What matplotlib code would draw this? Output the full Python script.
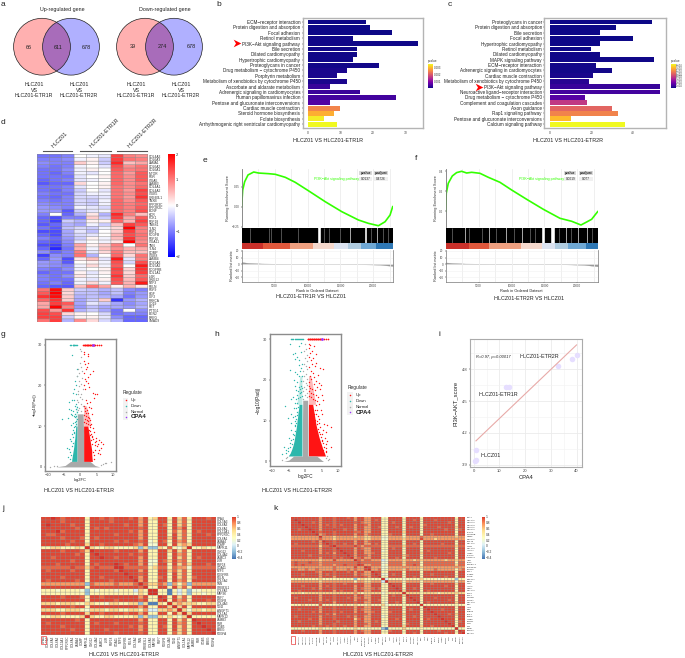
import numpy as np
from matplotlib import pyplot as plt
from matplotlib.colors import LinearSegmentedColormap, Normalize
from matplotlib.patches import Circle, Rectangle

plt.rcParams['font.family'] = ['Liberation Sans', 'DejaVu Sans']

W, H = 685, 658
fig = plt.figure(figsize=(W / 100, H / 100), dpi=100)


def px_axes(x0, y0, x1, y1):
    # axes from pixel box, y counted from the top of the picture
    return fig.add_axes([x0 / W, 1 - y1 / H, (x1 - x0) / W, (y1 - y0) / H])


# ---- data ----
venn_up = [66, 611, 678]
venn_down = [39, 274, 678]

b_terms = ['ECM−receptor interaction', 'Protein digestion and absorption', 'Focal adhesion', 'Retinol metabolism',
           'PI3K−Akt signaling pathway', 'Bile secretion', 'Dilated cardiomyopathy', 'Hypertrophic cardiomyopathy',
           'Proteoglycans in cancer', 'Drug metabolism − cytochrome P450', 'Porphyrin metabolism',
           'Metabolism of xenobiotics by cytochrome P450', 'Ascorbate and aldarate metabolism',
           'Adrenergic signaling in cardiomyocytes', 'Human papillomavirus infection',
           'Pentose and glucuronate interconversions', 'Cardiac muscle contraction', 'Steroid hormone biosynthesis',
           'Folate biosynthesis', 'Arrhythmogenic right ventricular cardiomyopathy']
b_counts = [18, 19, 26, 14, 34, 15, 15, 14, 22, 12, 9, 12, 7, 16, 27, 7, 10, 8, 5, 9]
b_pvalue = [.00001, .00001, .00001, .00002, .00002, .00002, .00002, .00002, .00003, .00007, .00007, .00007,
            .00028, .00030, .00036, .00050, .00245, .00287, .00340, .00350]

c_terms = ['Proteoglycans in cancer', 'Protein digestion and absorption', 'Bile secretion', 'Focal adhesion',
           'Hypertrophic cardiomyopathy', 'Retinol metabolism', 'Dilated cardiomyopathy', 'MAPK signaling pathway',
           'ECM−receptor interaction', 'Adrenergic signaling in cardiomyocytes', 'Cardiac muscle contraction',
           'Metabolism of xenobiotics by cytochrome P450', 'PI3K−Akt signaling pathway',
           'Neuroactive ligand−receptor interaction', 'Drug metabolism − cytochrome P450',
           'Complement and coagulation cascades', 'Axon guidance', 'Rap1 signaling pathway',
           'Pentose and glucuronate interconversions', 'Calcium signaling pathway']
c_counts = [49, 32, 24, 40, 24, 20, 24, 50, 22, 30, 21, 19, 53, 53, 17, 18, 30, 33, 10, 36]
c_pvalue = [.1e-5, .1e-5, .2e-5, .2e-5, .3e-5, .3e-5, .4e-5, .4e-5, .8e-5, 1e-5, 1.5e-5, 4e-5, 7e-5, 9e-5, 13e-5,
            39e-5, 52e-5, 60e-5, 73e-5, 86e-5]

d_genes = ['COL4A3', 'COL6A3', 'LAMA1', 'COL6A2', 'COL6A1', 'MTOR', 'FGR', 'ITGA5', 'LAMB3', 'COL4A1', 'COL4A2',
           'ITGB5', 'CREB3L1', 'TNXB', 'PPP2R3C', 'PPP2R2C', 'BDNF', 'KDR', 'PCK1', 'FGF18', 'TNBS1', 'TLN2', 'FGF1',
           'PDGFB', 'FGF16', 'ITGA11', 'TNN', 'TLN4', 'COMP', 'ITGB8', 'LAMB4', 'COL5A3', 'COL5A2', 'PDGFRB', 'COL1A1',
           'IL6R', 'GNG12', 'NTF3', 'RELN', 'FGF9', 'HGF', 'IGF2', 'PRKCA', 'CD19', 'RET', 'PTTG1', 'BGN2', 'EREG',
           'SMAD9']
d_values = [
    [-1.1, -1.1, -1.0, 0.0, -0.1, -0.2, 1.5, 1.0, 0.9],
    [-1.0, -1.0, -0.9, -0.1, 0.1, -0.4, 1.5, 1.1, 1.0],
    [-0.9, -1.0, -1.0, 0.4, 0.1, -0.4, 1.7, 0.5, 0.7],
    [-1.0, -1.1, -1.0, -0.1, 0.0, -0.2, 1.4, 0.9, 1.1],
    [-1.1, -1.1, -0.9, -0.1, 0.1, 0.0, 1.3, 1.0, 1.1],
    [-1.1, -1.2, -1.0, -0.1, -0.2, 0.0, 1.2, 0.8, 1.3],
    [-1.1, -1.1, -1.1, -0.2, 0.0, 0.1, 1.2, 0.9, 1.3],
    [-1.2, -1.1, -1.0, -0.2, -0.1, 0.0, 1.2, 0.9, 1.3],
    [-1.3, -1.2, -1.2, 0.3, 0.0, 0.1, 1.2, 0.9, 1.1],
    [-1.1, -1.1, -1.0, -0.2, 0.0, 0.1, 1.1, 0.9, 1.2],
    [-1.1, -1.2, -1.0, -0.4, 0.0, -0.2, 1.1, 0.8, 1.5],
    [-1.0, -1.1, -1.1, -0.3, -0.1, -0.1, 1.1, 0.9, 1.4],
    [-1.1, -1.2, -1.0, -0.3, -0.3, -0.2, 1.1, 0.8, 1.6],
    [-1.0, -1.1, -1.0, -0.3, -0.4, -0.1, 1.2, 0.9, 1.3],
    [-0.9, -1.0, -1.0, -0.3, -0.4, -0.1, 1.2, 1.0, 1.2],
    [-0.8, -0.9, -1.0, -0.1, -0.2, -0.3, 1.2, 1.0, 1.3],
    [-0.8, -0.8, -1.3, -0.4, -0.2, -0.1, 1.2, 1.0, 1.4],
    [-1.0, 0.0, -1.2, -0.6, 0.2, -0.6, 1.7, 1.0, 0.5],
    [-1.2, -1.4, -1.0, -1.0, 0.4, -0.4, 1.5, 0.7, 1.3],
    [-1.2, -1.5, -0.4, -0.6, 0.1, 0.1, 1.2, 0.6, 1.5],
    [-1.3, -1.2, -0.6, -0.7, -0.1, -0.4, 0.5, 1.5, 1.3],
    [-1.1, -1.3, -0.5, -0.3, -0.4, -0.1, 0.3, 2.0, 1.0],
    [-1.4, -1.4, -0.7, -0.2, -0.5, 0.0, 0.4, 1.5, 1.0],
    [-1.2, -1.4, -0.7, -0.3, -0.2, 0.0, 0.6, 1.4, 1.1],
    [-1.0, -1.2, -0.8, -0.4, 0.1, -0.1, 0.5, 1.6, 1.0],
    [-1.2, -1.3, -0.9, -0.2, 0.0, -0.1, 0.2, 2.0, 0.9],
    [-1.4, -1.5, -1.0, 0.7, 0.1, 0.4, 1.0, 0.0, 1.1],
    [-1.2, -1.7, -1.1, 0.6, -0.1, 0.5, 0.9, 0.6, 0.7],
    [-0.9, -1.2, -1.0, 1.0, -0.2, 0.3, 1.1, 0.5, 0.5],
    [-1.5, -0.9, -1.0, 1.1, -0.6, 0.0, 1.2, 0.3, 1.1],
    [-1.2, -0.8, -1.4, 0.2, 0.5, -0.2, 1.8, -0.2, 1.0],
    [-0.8, -0.9, -1.3, 0.0, 0.1, -0.1, 1.4, -0.3, 1.4],
    [-0.8, -0.9, -1.0, -0.1, 0.3, -0.1, 1.3, 0.0, 1.8],
    [-1.0, -1.1, -0.9, -0.1, 0.0, 0.1, 1.5, 0.3, 1.6],
    [-1.2, -1.1, -1.1, 0.1, -0.2, 0.1, 1.4, 0.3, 1.5],
    [-1.0, -1.1, -0.9, 0.2, -0.1, 0.0, 1.6, 0.4, 1.2],
    [-1.0, -1.1, -1.1, -0.1, -0.2, 0.1, 1.4, 0.5, 1.3],
    [-1.1, -1.0, -1.2, -0.1, 0.3, -0.1, 1.3, 0.6, 1.8],
    [-1.2, -1.3, -1.3, 0.5, 1.1, 0.7, 0.1, 0.6, 0.2],
    [1.1, 1.9, 0.4, -0.4, -0.5, -0.6, -0.5, -0.9, -1.0],
    [1.3, 2.0, 0.3, -0.5, -0.5, -0.7, -0.5, -1.0, -0.8],
    [1.6, 1.9, 0.4, -0.6, -0.5, -0.6, -0.7, -1.1, -0.8],
    [1.2, 1.6, 0.4, -0.7, -0.4, 0.4, -1.6, -0.8, -0.6],
    [0.7, 1.5, 1.3, -0.7, -0.2, -0.4, -0.7, -0.9, -0.7],
    [0.7, 2.0, 1.0, -0.8, -0.5, -0.7, -0.7, -0.8, -0.6],
    [1.4, 0.8, 1.6, -0.6, -0.4, -0.7, -1.1, 0.0, -0.9],
    [1.5, 1.4, 0.3, 0.1, 0.0, -0.3, -1.1, -1.0, -1.0],
    [1.5, 1.5, -0.4, 0.1, 0.1, -0.2, -0.9, -1.2, -1.2],
    [1.1, 1.5, -0.6, 0.9, 0.3, -0.3, -0.6, -1.2, -1.2],
]

e_rank = [0, 50, 150, 450, 960, 1820, 2580, 4090, 5100, 6620, 8130, 10150, 12680, 15200, 17730, 19240, 20760, 21770,
          22530, 22930]
e_score = [0, 0.08, 0.21, 0.315, 0.40, 0.437, 0.424, 0.416, 0.408, 0.37, 0.307, 0.20, 0.063, -0.063, -0.168, -0.21,
           -0.24, -0.19, -0.105, 0.0]
e_runs = [(0, 2170), (2370, 3180), (3380, 5000), (5100, 7120), (7220, 7630), (7730, 9240), (9390, 10760), (10860, 11410),
          (11970, 14190), (14290, 16310), (16620, 17320), (17480, 18640), (18990, 20350), (20760, 22930)]
e_thin = [1200, 4100, 4500, 6000, 8500, 12500, 13200, 15000, 19600, 21500, 22200]
e_strip = [0, 3300, 7300, 10800, 13950, 16200, 18100, 20450, 22930]
e_metric_rank = [0, 1000, 3000, 7000, 12000, 18000, 21000, 22930]
e_metric = [3, 1.8, 0.9, 0.2, 0, -0.3, -1, -3]

f_rank = [0, 85, 390, 1000, 1660, 2420, 3180, 3940, 5200, 6470, 8240, 10020, 12300, 14830, 17360, 19140, 20550, 21410,
          22170, 22680, 23090]
f_score = [0, 0.18, 0.28, 0.353, 0.387, 0.40, 0.383, 0.39, 0.38, 0.34, 0.29, 0.213, 0.12, 0.02, -0.07, -0.10, -0.137,
           -0.107, -0.08, -0.037, -0.003]
f_runs = [(0, 2770), (3030, 4440), (4650, 6470), (6770, 9000), (9300, 11440), (11790, 14470), (15080, 15840),
          (16600, 18120), (18430, 19890), (20250, 21260), (21570, 23090)]
f_thin = [900, 3600, 5500, 7600, 10300, 12800, 13600, 17200, 19000, 22300]
f_strip = [0, 3530, 6570, 11440, 14670, 16600, 18520, 21260, 23090]
f_metric_rank = [0, 1000, 3000, 7000, 12000, 18000, 21000, 23090]
f_metric = [2.5, 1.6, 0.8, 0.3, 0, -0.4, -1.2, -3.5]

strip_colors = ['#C9302A', '#E0583C', '#EFA080', '#F5D8CC', '#DCE3F0', '#B0CCE0', '#6FA8D4', '#2F78B5']

# volcano g: outline of the dense cloud, then the loose points
g_env_y = [1.3, 2, 3, 4, 5, 6, 7, 8, 9, 10]
g_up_dense = [3.7, 3.6, 3.5, 3.5, 3.3, 3.1, 2.9, 2.7, 2.5, 2.3]
g_down_dense = [-2.7, -2.6, -2.4, -2.2, -2.0, -1.9, -1.7, -1.6, -1.5, -1.4]
g_thin_y = [10, 11, 12, 13, 14, 15]
g_up_thin = [3.0, 3.0, 2.9, 2.5, 2.2, 1.8]
g_down_thin = [-1.5, -1.4, -1.4, -1.3, -1.3, -1.2]
g_grey_y = [-0.05, 0.3, 1.3, 1.31, 8, 13]
g_grey_l = [-7.5, -4.7, -3.0, -1.0, -1.0, -0.85]
g_grey_r = [6.0, 4.5, 3.0, 1.0, 1.0, 0.85]
g_up = [(1.0, 28.3), (1.2, 27.8), (2.4, 27.2), (2.5, 27.7), (1.1, 26.0), (2.5, 25.5), (1.5, 25.2), (2.0, 24.6),
        (1.8, 24.0), (3.9, 23.6), (1.2, 23.0), (2.9, 22.8), (2.2, 22.0), (1.4, 21.5), (1.7, 21.0), (2.3, 20.5),
        (1.1, 20.0), (2.6, 19.5), (1.3, 19.0), (4.6, 18.0), (3.8, 18.2), (5.0, 17.8), (4.1, 16.8), (1.6, 16.5),
        (3.0, 16.0), (2.0, 15.7), (2.7, 14.8), (3.3, 14.4), (3.6, 13.0), (3.1, 11.6), (3.4, 10.5), (3.8, 9.4),
        (4.2, 8.5), (4.8, 7.0), (5.6, 6.6), (3.7, 7.5), (4.9, 6.3), (6.2, 6.0), (7.0, 5.6), (5.4, 5.5), (4.5, 5.4),
        (6.5, 4.6), (5.8, 4.0), (3.9, 6.8), (4.4, 6.1), (5.1, 5.0), (3.5, 7.2), (6.0, 3.2), (4.0, 3.5), (4.3, 2.8),
        (4.6, 4.2), (5.3, 3.3), (4.1, 1.8),
        (1.2, 14.9), (1.5, 14.4), (2.1, 14.0), (1.3, 13.6), (1.8, 13.3), (2.4, 13.1), (1.1, 12.8), (1.6, 12.5),
        (2.2, 12.2), (2.8, 12.0), (1.3, 11.8), (1.9, 11.5), (2.5, 11.3), (1.1, 11.0), (1.7, 10.8), (2.3, 10.6),
        (2.9, 10.3), (3.0, 9.7), (2.8, 9.1), (3.0, 8.9), (3.2, 8.1), (2.9, 7.7), (3.2, 6.6), (3.5, 5.7)]
g_down = [(-2.6, 27.4), (-1.0, 24.0), (-1.1, 22.4), (-1.6, 21.0), (-1.2, 20.0), (-2.0, 19.0), (-2.2, 18.2),
          (-1.4, 18.0), (-1.8, 16.5), (-2.5, 16.3), (-3.4, 16.0), (-1.7, 15.0), (-3.4, 14.3), (-1.4, 15.5),
          (-2.3, 13.6), (-2.8, 14.0), (-3.0, 13.0), (-2.6, 12.8), (-2.0, 12.4), (-3.8, 12.0), (-5.6, 11.7),
          (-2.2, 10.8), (-3.0, 10.2), (-1.9, 9.7), (-2.4, 9.0), (-1.8, 8.6), (-2.7, 8.0), (-3.3, 6.8), (-2.9, 6.2),
          (-4.0, 4.5), (-3.5, 4.4), (-3.2, 3.7), (-2.9, 3.0), (-3.7, 2.4), (-3.2, 1.8),
          (-1.1, 14.6), (-1.3, 14.1), (-1.1, 13.4), (-1.5, 13.0), (-1.2, 12.5), (-1.6, 12.1), (-1.1, 11.7),
          (-1.4, 11.3), (-1.7, 10.9), (-1.2, 10.5), (-1.6, 10.1), (-2.1, 8.2), (-2.3, 7.2), (-2.4, 5.9), (-2.7, 5.0)]
g_grey = [(-0.2, 29.0), (0.2, 28.5), (-0.8, 24.1), (-0.9, 22.3), (0.5, 23.5), (-0.3, 19.8), (-0.8, 18.0), (-0.9, 16.4),
          (7.0, 0.6), (7.6, 0.8), (8.0, 1.0), (9.5, 1.2), (-8.0, 0.1), (-7.2, 0.15), (-9.3, 0.05), (6.5, 0.4),
          (0.1, 27.0), (-0.2, 25.6), (0.3, 24.6), (-0.5, 23.0), (0.6, 21.9), (-0.4, 21.0), (0.2, 20.3), (0.7, 19.2),
          (-0.6, 18.6), (0.3, 18.0), (-0.1, 17.2), (0.6, 16.6), (-0.7, 15.9), (0.1, 15.4), (0.7, 14.9), (-0.4, 14.4),
          (-0.8, 13.9), (0.3, 13.6)]
g_top_up = [0.9, 1.1, 1.3, 1.5, 1.7, 1.9, 2.1, 2.3, 2.5, 2.7, 2.9, 3.1, 3.3, 3.5, 3.7, 4.1, 4.3, 4.6, 5.0, 5.6, 6.5]
g_top_down = [-3.2, -3.0, -2.4, -2.2, -2.0, -1.8, -1.6, -1.3, -1.0]
g_cpa4 = (3.9, 30)

# h is much fuller than g, the solid block reaches higher
h_env_y = [1.3, 2, 3, 4, 5, 6, 7, 8, 9, 10, 11, 12, 13, 14]
h_up_dense = [6.2, 5.9, 5.4, 5.0, 4.6, 4.2, 3.9, 3.6, 3.3, 3.1, 2.9, 2.7, 2.5, 2.3]
h_down_dense = [-5.2, -4.6, -4.1, -3.7, -3.4, -3.2, -3.0, -2.8, -2.6, -2.5, -2.3, -2.2, -2.0, -1.9]
h_thin_y = [14, 15, 16, 17, 18, 19, 20, 21]
h_up_thin = [3.2, 3.0, 2.8, 2.6, 2.4, 2.2, 2.0, 1.7]
h_down_thin = [-2.6, -2.4, -2.3, -2.1, -2.0, -1.9, -1.8, -1.6]
h_grey_y = [-0.05, 0.3, 1.3, 1.31, 8, 15]
h_grey_l = [-6.6, -5.0, -3.5, -0.85, -0.85, -0.75]
h_grey_r = [5.6, 5.0, 3.5, 0.85, 0.85, 0.75]
h_up = [(1.1, 28.8), (1.6, 28.6), (2.7, 28.4), (1.3, 27.9), (2.2, 27.2), (1.5, 26.6), (3.2, 26.4), (1.1, 25.6),
        (2.4, 25.4), (1.8, 24.8), (3.4, 24.2), (2.0, 23.8), (2.9, 23.4), (1.3, 23.1), (4.6, 22.8), (1.7, 22.3),
        (5.3, 22.6), (2.3, 21.6), (3.8, 21.2), (1.4, 21.0), (2.6, 20.6), (1.9, 20.2), (3.4, 19.8), (4.2, 19.3),
        (1.2, 19.4), (2.8, 18.9), (4.9, 18.7), (5.0, 16.3), (5.4, 15.0), (4.4, 17.8), (3.9, 15.8), (4.3, 14.1),
        (3.7, 18.3), (4.7, 12.5), (5.1, 11.6), (4.2, 10.4), (5.8, 9.1), (6.6, 8.8), (7.8, 8.4), (5.5, 7.8),
        (6.4, 7.2), (5.2, 6.6), (6.1, 5.6), (6.7, 5.0), (5.0, 4.9), (6.5, 4.2), (6.3, 3.2), (8.0, 3.4), (5.6, 2.8),
        (6.4, 2.2), (4.6, 8.4), (4.1, 9.5),
        (1.1, 18.4), (1.6, 18.1), (2.2, 17.8), (2.9, 17.5), (1.3, 17.2), (1.9, 16.9), (2.5, 16.6), (3.2, 16.3),
        (1.2, 16.0), (1.7, 15.7), (2.3, 15.4), (2.9, 15.1), (3.5, 14.8), (3.2, 13.8), (2.9, 12.7), (3.6, 12.5),
        (2.6, 11.7), (3.2, 11.5), (3.9, 11.2), (3.0, 10.2), (3.6, 10.0), (3.6, 9.2), (3.9, 8.0), (4.2, 7.3),
        (4.4, 6.6), (4.7, 5.9), (5.0, 5.3), (5.4, 4.4), (5.8, 3.6), (6.4, 2.6)]
h_down = [(-4.6, 28.9), (-1.2, 29.0), (-2.0, 28.4), (-3.0, 26.6), (-3.6, 26.3), (-1.4, 26.8), (-2.6, 25.7),
          (-3.2, 25.1), (-1.8, 24.8), (-2.0, 23.6), (-4.8, 22.4), (-3.0, 22.0), (-1.6, 22.1), (-2.6, 21.4),
          (-2.0, 20.9), (-3.4, 20.0), (-2.5, 19.5), (-1.4, 19.8), (-3.1, 18.4), (-2.8, 17.4), (-4.3, 15.4),
          (-3.7, 15.8), (-3.2, 14.2), (-6.2, 13.6), (-3.5, 13.1), (-4.2, 11.6), (-3.6, 10.9), (-5.2, 10.6),
          (-4.3, 9.5), (-3.2, 8.8), (-4.4, 7.6), (-3.8, 6.6), (-5.0, 5.7), (-4.6, 4.6), (-6.6, 3.6), (-5.8, 2.8),
          (-6.0, 2.0), (-7.2, 1.7), (-5.4, 3.2), (-4.3, 5.3),
          (-1.1, 24.0), (-1.3, 23.0), (-1.1, 21.0), (-1.2, 18.6), (-1.8, 18.3), (-1.1, 18.0), (-1.5, 17.7),
          (-2.2, 17.3), (-1.2, 17.0), (-1.7, 16.7), (-2.4, 16.4), (-1.1, 16.1), (-1.6, 15.8), (-2.1, 15.5),
          (-2.8, 15.2), (-2.5, 14.3), (-2.2, 13.4), (-2.9, 13.1), (-2.6, 12.2), (-2.4, 11.4), (-3.0, 11.1),
          (-2.7, 10.3), (-3.2, 10.0), (-2.8, 9.4), (-3.1, 8.6), (-3.2, 7.4), (-3.4, 6.4), (-3.7, 5.5), (-4.1, 4.3),
          (-4.6, 3.4), (-5.4, 2.6)]
h_grey = [(0.0, 28.9), (-0.5, 27.2), (0.4, 26.1), (-6.0, 0.9), (-5.6, 1.1), (6.4, 0.9), (6.8, 1.2), (-7.0, 0.2),
          (6.9, 0.3), (7.2, 0.5),
          (0.2, 27.7), (-0.2, 25.4), (0.5, 24.7), (-0.4, 24.0), (0.1, 23.4), (0.6, 22.7), (-0.6, 22.1), (0.2, 21.5),
          (-0.3, 20.9), (0.6, 20.3), (-0.6, 19.7), (0.1, 19.2), (0.7, 18.7), (-0.4, 18.2), (0.3, 17.7), (-0.7, 17.2),
          (0.6, 16.8), (-0.2, 16.3), (0.4, 15.8), (-0.6, 15.4)]
h_top_up = [0.8, 1.0, 1.2, 1.4, 1.6, 1.8, 2.0, 2.2, 2.4, 2.6, 2.8, 3.0, 3.2, 3.4, 3.6, 3.8, 4.0, 4.2, 4.4, 4.6, 4.8,
            5.7, 6.5, 7.0]
h_top_down = [-4.4, -4.0, -3.6, -3.2, -2.8, -2.5, -2.2, -1.9, -1.6, -1.3, -1.0, -0.7]
h_cpa4 = (5.2, 30)

i_cpa4 = [0.9, 0.8, 0.65, 12.4, 13.9, 32.6, 38.3, 40.0]
i_score = [4.036, 3.94, 3.935, 4.63, 4.63, 4.835, 4.90, 4.935]
i_fit_x = [0.9, 40.0]
i_fit_y = [4.124, 5.03]

# correlation cells: each digit is an index into corr_levels
corr_levels = [-0.42, -0.2, 0.02, 0.2, 0.35, 0.55, 0.72, 0.86, 0.94, 1.0]
corr_colors = ['#4575B4', '#91BFDB', '#E0F3F8', '#FFFFBF', '#FEE090', '#FC8D59', '#D73027']

j_genes = ['CPA4', 'COL5A3', 'COL6A3', 'COL6A2', 'COL12A1', 'PPP2R3C', 'COL6A1', 'LAMA4', 'COMP', 'MAPK11', 'GNG12',
           'COL4A2', 'LAMC3', 'IL6R', 'FGF18', 'ITGA11', 'NTF3', 'PDGFRB', 'RELN', 'COL5A2', 'TNN', 'CREB3L1',
           'COL6A5', 'MAP3K', 'FGF7', 'PDGFB', 'COL4A3', 'TLN2', 'ANGPT1', 'COL1A1', 'MAPK12', 'LAMB3', 'FGR',
           'ITGB5', 'EREG', 'PDGFA']
j_rows = [
    '889878888 4 8878788878 6 8 45 88 4 8 5 7 4 88878',
    '888878888 4 8888788888 6 8 44 88 4 8 5 7 4 88888',
    '898888788 4 8888888788 6 8 44 87 4 8 5 7 4 88888',
    '888888878 4 8787888888 7 8 44 88 4 8 6 8 4 88888',
    '888978888 4 8888888878 6 8 44 88 4 7 5 7 4 87888',
    '877888888 4 8888878888 6 8 44 88 4 8 5 7 4 88878',
    '888878887 4 8788888888 6 8 44 88 5 8 5 7 4 88888',
    '888888788 4 8888878788 7 8 34 87 4 8 6 7 4 88888',
    '888887888 5 8878888887 6 8 33 88 4 8 5 6 5 88888',
    '445544454 9 5445544445 1 5 11 54 7 4 3 5 9 44544',
    '888878887 5 9888878888 6 8 44 88 5 8 5 7 4 88888',
    '888888878 4 8988888878 7 8 44 88 4 8 6 7 4 88888',
    '887888888 4 8898878888 6 8 44 88 4 8 5 7 4 87888',
    '888888788 4 8888888888 6 8 33 87 5 8 6 7 4 88888',
    '888788888 4 8788898788 6 8 34 88 4 8 5 7 5 88878',
    '777777877 5 7877799777 7 7 45 77 4 7 6 6 3 77777',
    '878888788 4 8888879888 6 8 44 88 5 7 5 7 4 88888',
    '888888888 4 8888888988 7 8 44 88 4 8 5 7 4 88888',
    '888878888 4 8878888898 6 8 44 78 4 8 5 7 4 78888',
    '878888878 4 8888788889 6 8 44 88 4 8 6 7 4 88888',
    '666666666 1 7666676667 9 7 55 76 1 6 4 6 1 66666',
    '888888888 4 8888888888 7 9 44 88 4 8 5 7 4 88888',
    '444344443 1 4344434442 5 4 99 44 0 4 2 4 1 33444',
    '444444444 1 4444444443 5 4 99 44 0 4 2 4 1 44344',
    '888878887 4 8878888888 6 8 44 98 4 8 5 7 4 88888',
    '888888888 4 8888878888 7 8 44 89 4 8 6 7 4 88878',
    '555455544 5 5443554455 1 5 00 54 9 5 6 5 5 54455',
    '888888788 4 8888888888 6 8 44 88 5 9 5 8 4 88888',
    '555445554 3 5554554455 4 6 22 55 6 5 9 5 3 55455',
    '888878888 5 8878888788 6 8 44 88 4 8 5 9 5 88888',
    '445544445 9 5445544445 1 5 11 54 5 4 3 5 9 44444',
    '888888878 4 8888888888 6 8 44 88 4 8 5 7 4 98888',
    '878888888 4 8788878888 7 8 44 88 4 8 6 7 4 89888',
    '888878888 4 8888888878 6 8 44 87 4 8 5 7 4 88988',
    '888888788 4 8887888888 6 8 44 88 4 8 5 7 4 88898',
    '888888888 4 8888878888 7 8 44 88 4 7 5 7 4 88889',
]

k_genes = ['CPA4', 'COL1A1', 'COL5A2', 'COL6A3', 'COL5A1', 'COL6A2', 'LAMA4', 'PDGFRB', 'COMP', 'COL6A1', 'FGF18',
           'COL4A1', 'TNXB', 'COL4A2', 'ITGA11', 'ITGB5', 'LAMC3', 'ANGPT1', 'IL6R', 'TLN2', 'CREB3L1', 'PPP2R3C',
           'GNG12', 'FGF7', 'LAMB3', 'MTOR', 'MAPK11', 'RELN', 'TNN', 'ITGA5', 'NTF3', 'COL1A2', 'PCK1', 'FGF1',
           'PDGFB', 'PDGFA', 'COL4A3', 'RET', 'IGF2', 'HGF', 'THBS2', 'SPP1', 'EREG', 'ITGB8', 'TGFB1', 'KDR', 'FN1',
           'BDNF', 'PRKCA', 'SMAD9']
k_rows = [
    '88888888 6 888 7 88878 6 88 66 888 44 8888 4 8888 4 888888888 4 88',
    '89888888 6 888 7 88888 6 88 66 878 44 8888 4 8878 4 888788888 4 88',
    '88988878 6 888 7 88888 7 87 66 888 44 8788 4 8888 4 888888878 4 88',
    '88898888 6 878 7 87888 6 88 76 888 44 8888 4 8888 4 788888888 4 88',
    '88889888 6 888 7 88888 6 88 66 887 44 8878 4 8788 4 888878888 5 88',
    '88788988 6 888 8 88788 6 88 66 888 44 8888 4 8888 4 888888788 4 78',
    '88888898 7 888 7 88888 7 78 66 888 44 8888 5 8888 4 888888888 4 88',
    '88888889 6 788 7 88888 6 88 67 888 44 7888 4 8888 4 887888888 4 88',
    '66666666 9 666 5 66666 5 66 55 666 33 6666 4 6666 7 666666666 5 66',
    '66666666 7 666 5 66666 6 66 55 666 33 6666 5 6666 8 666566666 6 66',
    '88888878 6 988 7 88888 6 88 67 888 44 8888 4 8888 4 888888888 4 88',
    '87888888 6 898 7 88788 6 88 66 878 44 8888 4 8878 4 888887888 4 88',
    '77777777 5 778 9 77777 8 76 77 777 44 7777 5 7777 4 777777777 5 77',
    '88888888 6 888 7 98888 6 87 66 888 44 8788 4 8888 4 888888888 4 88',
    '88878888 6 888 7 89888 6 88 66 888 34 8888 4 8888 4 878888888 4 88',
    '88888888 6 878 6 88988 6 88 66 788 44 8888 4 8888 5 888888878 4 88',
    '88888788 7 888 7 88898 6 88 76 888 44 8888 5 7888 4 888888888 4 88',
    '88888888 6 888 7 87889 6 78 66 888 44 8878 4 8888 4 888788888 4 88',
    '66666666 5 666 8 66666 9 76 77 666 23 6666 5 6656 5 666666566 5 66',
    '78777877 6 777 7 77777 7 87 77 777 33 7777 5 7777 4 777777777 4 77',
    '78787777 6 777 6 77877 7 98 66 777 34 7777 5 7787 4 777777777 5 77',
    '66666666 6 666 7 66666 8 66 98 666 33 6666 6 6666 5 666666666 6 66',
    '77667667 6 666 7 66676 7 66 89 667 34 6666 5 7666 4 666766666 4 67',
    '88888887 6 888 7 88878 6 88 66 988 44 8888 4 8888 4 888888888 4 88',
    '88878888 6 878 7 88888 6 87 66 898 33 8788 4 8888 4 887888888 4 88',
    '88888888 6 888 6 88888 7 88 76 889 44 8888 4 8878 4 888888788 4 88',
    '44444444 5 444 4 44444 1 45 44 444 92 4444 3 4444 5 444434444 1 44',
    '66666666 5 666 6 66666 4 66 55 666 29 6666 4 6666 4 666666666 3 66',
    '88888888 6 888 7 88788 7 88 66 888 44 9888 4 8888 4 887888888 5 88',
    '88878888 6 878 7 88888 6 88 66 888 44 8988 4 8888 4 888888788 4 88',
    '88888878 6 888 7 88888 6 87 66 787 44 8898 4 8878 4 888888888 4 88',
    '88788888 7 888 6 87888 6 88 66 888 44 8889 5 8888 4 878888888 4 88',
    '55545555 5 555 5 55555 6 54 55 555 34 5555 9 5555 4 555545555 5 55',
    '88888888 6 888 7 88888 6 88 66 888 44 8788 5 9888 4 888888888 4 88',
    '87888888 6 888 7 88878 6 78 66 888 44 8888 4 8988 4 888788888 4 88',
    '88888788 6 878 7 88888 6 88 76 887 44 8888 4 8898 4 888888878 4 88',
    '88888888 7 888 6 88888 7 88 66 888 43 8878 4 8889 4 878888888 5 88',
    '44454444 7 444 4 44544 5 44 45 444 53 4444 4 4444 9 444444444 4 44',
    '88888888 6 888 7 88888 6 88 66 888 44 8888 4 8888 4 988888888 4 88',
    '88788888 6 888 7 88888 6 87 66 888 44 8888 4 8788 4 898887888 4 88',
    '88888878 6 888 7 87888 6 88 66 788 44 7888 4 8888 4 889888888 4 88',
    '88888888 7 878 6 88888 7 88 76 888 44 8888 5 8888 4 888988878 5 88',
    '87888888 6 888 7 88878 6 88 66 888 34 8888 4 8878 4 888898888 4 88',
    '88888788 6 888 7 88888 5 78 66 888 44 8878 4 8888 4 878889888 4 88',
    '88788888 6 888 8 78888 6 88 66 878 44 8888 4 8888 4 888888988 4 78',
    '88888888 6 888 7 88888 6 88 76 888 44 8888 4 7888 4 888888898 4 88',
    '88888878 7 878 7 88788 6 88 66 888 44 8888 5 8888 5 887888889 4 88',
    '44444444 5 444 5 44444 5 44 44 444 10 4444 5 4444 4 444444444 9 44',
    '88878888 6 888 7 88888 6 87 66 888 44 7888 4 8888 4 888878888 4 98',
    '88888888 6 888 7 88888 6 88 66 888 44 8888 4 8878 4 888888788 4 89',
]

# ---- panels b, c : enrichment bars ----
GREY = '#B4B4B4'


def enrich_bars(box, terms, counts, pvalue, vmax, xlim, ticks):
    ax = px_axes(*box)
    pos = np.arange(len(terms))
    ax.barh(pos, counts, height=0.9, color=plt.cm.plasma(Normalize(0, vmax)(pvalue)))
    ax.set_yticks(pos)
    ax.set_yticklabels(terms, fontsize=3.35, color='#222222')
    ax.set_xticks(ticks)
    ax.set_xlim(*xlim)
    ax.set_ylim(len(terms) - 0.3, -0.7)
    ax.tick_params(axis='y', length=1, width=0.3, pad=0.8)
    ax.tick_params(axis='x', length=1, width=0.3, pad=0.8, labelsize=2.4, labelcolor='#444444')
    for s in ax.spines.values():
        s.set_color(GREY)
        s.set_linewidth(1)
    return ax


enrich_bars((302.7, 18.3, 423, 128), b_terms, b_counts, b_pvalue, 0.0035, (-1.53, 35.4), [0, 10, 20, 30])
enrich_bars((544.3, 18.3, 665.7, 128), c_terms, c_counts, c_pvalue, 86e-5, (-2.6, 55.7), [0, 20, 40])


def gradient_bar(box, cmap, vmin, vmax, ticks, labels, size=2.2, color='#333333'):
    ax = px_axes(*box)
    ax.imshow(np.linspace(vmax, vmin, 128).reshape(-1, 1), cmap=cmap, aspect='auto', vmin=vmin, vmax=vmax,
              extent=(0, 1, vmin, vmax))
    ax.set_xticks([])
    ax.yaxis.tick_right()
    ax.set_yticks(ticks)
    ax.set_yticklabels(labels, fontsize=size, color=color)
    ax.tick_params(axis='y', length=0, pad=0.8)
    for s in ax.spines.values():
        s.set_visible(False)
    return ax


gradient_bar((428, 64, 433, 88), 'plasma', 0, 0.0035, [0.001, 0.002, 0.003], ['0.001', '0.002', '0.003'])
gradient_bar((670.7, 64, 675, 88), 'plasma', 0, 86e-5, [1e-4, 2e-4, 3e-4, 4e-4, 5e-4, 6e-4, 7e-4, 8e-4],
             ['1e-04', '2e-04', '3e-04', '4e-04', '5e-04', '6e-04', '7e-04', '8e-04'], size=1.8)


def cell_grid(ax, nrow, ncol, color, lw):
    # thin lines that stay under a pixel wide, matplotlib snaps them otherwise
    for seg in (ax.hlines(np.arange(nrow + 1), 0, ncol, color=color, lw=lw),
                ax.vlines(np.arange(ncol + 1), 0, nrow, color=color, lw=lw)):
        seg.set_snap(False)


# ---- panel d : expression heatmap ----
heat_cmap = LinearSegmentedColormap.from_list('bwr2', ['#0000FF', '#FFFFFF', '#FF0000'])
ax = px_axes(37.3, 154.3, 147.7, 322.3)
ax.pcolormesh(np.array(d_values), cmap=heat_cmap, vmin=-2, vmax=2)
cell_grid(ax, len(d_values), 9, '#8A8A8A', 0.35)
ax.set_xlim(0, 9)
ax.set_ylim(len(d_values), 0)
ax.set_xticks([])
ax.yaxis.tick_right()
ax.set_yticks(np.arange(len(d_genes)) + 0.5)
ax.set_yticklabels(d_genes, fontsize=2.3, color='#333333')
ax.tick_params(axis='y', length=0, pad=1)
for s in ax.spines.values():
    s.set_visible(False)
gradient_bar((167.7, 154.3, 174.7, 257), heat_cmap, -2, 2, [-2, -1, 0, 1, 2], ['−2', '−1', '0', '1', '2'], size=3)


# ---- panels e, f : GSEA ----
def gsea(x0, x1, rank, score, runs, thin, strip, m_rank, metric, ylim, yticks, ylabels, xmax):
    top = px_axes(x0, 169, x1, 227.3)
    top.plot(rank, score, color='#33FF00', lw=1.2)
    top.set_xlim(0, xmax)
    top.set_ylim(*ylim)
    top.set_yticks(yticks)
    top.set_yticklabels(ylabels, fontsize=2.2, color='#444444')
    top.set_xticks([5000, 10000, 15000, 20000])
    top.set_xticks([2500, 7500, 12500, 17500, 22500], minor=True)
    top.grid(True, which='both', axis='x', color='#EDEDED', lw=0.6)
    top.tick_params(axis='x', which='both', length=0, labelbottom=False)
    top.tick_params(axis='y', length=1, width=0.3, pad=0.6)
    top.set_ylabel('Running Enrichment Score', fontsize=2.8, labelpad=1.2, color='#333333')
    for side in ('top', 'right', 'bottom'):
        top.spines[side].set_visible(False)
    top.spines['left'].set_color('#777777')
    top.spines['left'].set_linewidth(0.6)

    bar = px_axes(x0, 228, x1, 243)
    bar.broken_barh([(a, b - a) for a, b in runs], (0, 1), color='black')
    bar.vlines(thin, 0, 1, color='white', lw=0.4, alpha=0.55)
    bar.set_xlim(0, xmax)
    bar.set_ylim(0, 1)
    bar.axis('off')

    col = px_axes(x0, 243, x1, 249)
    for k, c in enumerate(strip_colors):
        col.axvspan(strip[k], strip[k + 1], color=c, lw=0)
    col.set_xlim(0, xmax)
    col.axis('off')

    low = px_axes(x0, 250, x1, 281.7)
    low.fill_between(m_rank, metric, 0, color='#9A9A9A', lw=0.2)
    low.set_xlim(0, xmax)
    low.set_ylim(-27, 21.5)
    low.set_yticks([-20, -10, 0, 10, 20])
    low.set_yticklabels(['−20', '−10', '0', '10', '20'], fontsize=2.2, color='#444444')
    low.set_xticks([5000, 10000, 15000, 20000])
    low.set_xticks([2500, 7500, 12500, 17500, 22500], minor=True)
    low.grid(True, which='both', axis='x', color='#EDEDED', lw=0.6)
    low.grid(True, which='major', axis='y', color='#F2F2F2', lw=0.4)
    low.tick_params(axis='x', which='minor', length=0)
    low.tick_params(axis='x', which='major', length=1, width=0.3, pad=0.6, labelsize=2.2, labelcolor='#444444')
    low.tick_params(axis='y', length=1, width=0.3, pad=0.6)
    low.set_xlabel('Rank in Ordered Dataset', fontsize=2.8, labelpad=0.8, color='#222222')
    low.set_ylabel('Ranked list metric', fontsize=2.8, labelpad=0.6, color='#333333')
    low.spines['top'].set_visible(False)
    for side in ('left', 'bottom', 'right'):
        low.spines[side].set_color('#777777')
        low.spines[side].set_linewidth(0.5)


gsea(241.7, 392.7, e_rank, e_score, e_runs, e_thin, e_strip, e_metric_rank, e_metric, (-0.26, 0.475),
     [-0.25, 0, 0.25], ['−0.25', '0.00', '0.25'], 22930)
gsea(445.7, 597.7, f_rank, f_score, f_runs, f_thin, f_strip, f_metric_rank, f_metric, (-0.16, 0.423),
     [0, 0.2, 0.4], ['0.0', '0.2', '0.4'], 23090)


# ---- panels g, h : volcano ----
def volcano(box, ylim, env_y, up_dense, down_dense, thin_y, up_thin, down_thin, grey_y, grey_l, grey_r, up, down, grey,
            top_up, top_down, cpa4, label_size):
    ax = px_axes(*box)
    red, teal, gr = '#FF1414', '#2DB7AC', '#A9A9A9'
    ax.fill_betweenx(thin_y, 1, up_thin, color=red, alpha=0.3, lw=0)
    ax.fill_betweenx(thin_y, down_thin, -1, color=teal, alpha=0.3, lw=0)
    ax.fill_betweenx(env_y, 1, up_dense, color=red, lw=0)
    ax.fill_betweenx(env_y, down_dense, -1, color=teal, lw=0)
    ax.fill_betweenx(grey_y, grey_l, grey_r, color=gr, lw=0)
    for pts, c in ((up, red), (down, teal), (grey, gr)):
        pts = np.array(pts)
        ax.scatter(pts[:, 0], pts[:, 1], s=1, color=c, linewidths=0)
    ax.scatter(top_up, [30] * len(top_up), s=1.5, color=red, linewidths=0)
    ax.scatter(top_down, [30] * len(top_down), s=1.2, color=teal, linewidths=0)
    ax.scatter(*cpa4, s=4, color='#9B30FF', linewidths=0, zorder=5)
    ax.set_xlim(-10.87, 10.87)
    ax.set_ylim(*ylim)
    ax.set_xticks([-10, -5, 0, 5, 10])
    ax.set_xticklabels(['−10', '−5', '0', '5', '10'], fontsize=2.8, color='#444444')
    ax.set_yticks([0, 10, 20, 30])
    ax.set_yticklabels(['0', '10', '20', '30'], fontsize=2.8, color='#444444')
    ax.tick_params(length=1, width=0.3, pad=0.8)
    ax.set_xlabel('log2FC', fontsize=label_size, labelpad=0.8, color='#222222')
    ax.set_ylabel('−log10(Padj)', fontsize=label_size, labelpad=1.2, color='#222222')
    for s in ax.spines.values():
        s.set_color('#8C8C8C')
        s.set_linewidth(1)


volcano((45, 339, 115.7, 470.7), (-0.98, 31.4), g_env_y, g_up_dense, g_down_dense, g_thin_y, g_up_thin, g_down_thin,
        g_grey_y, g_grey_l, g_grey_r, g_up, g_down, g_grey, g_top_up, g_top_down, g_cpa4, 2.9)
volcano((269.7, 334.3, 340.7, 466.3), (-1.23, 31.2), h_env_y, h_up_dense, h_down_dense, h_thin_y, h_up_thin, h_down_thin,
        h_grey_y, h_grey_l, h_grey_r, h_up, h_down, h_grey, h_top_up, h_top_down, h_cpa4, 3.4)

# ---- panel i : correlation scatter ----
ax = px_axes(470.3, 339.3, 581.7, 466.7)
ax.plot(i_fit_x, i_fit_y, color='#E8AAA8', lw=0.8, zorder=3)
ax.scatter(i_cpa4, i_score, s=16, color='#E6DEFF', linewidths=0, zorder=2)
ax.set_xlim(-1.3, 42)
ax.set_ylim(3.88, 5.083)
ax.set_xticks([0, 10, 20, 30, 40])
ax.set_yticks([3.9, 4.2, 4.5, 4.8])
ax.set_xticks([5, 15, 25, 35], minor=True)
ax.set_yticks([4.05, 4.35, 4.65, 4.95], minor=True)
ax.grid(True, which='major', color='#EBEBEB', lw=0.6)
ax.grid(True, which='minor', color='#F2F2F2', lw=0.4)
ax.set_axisbelow(True)
ax.tick_params(axis='both', which='major', length=1, width=0.3, pad=0.8, labelsize=3, labelcolor='#444444')
ax.tick_params(axis='both', which='minor', length=0)
ax.set_xlabel('CPA4', fontsize=4.2, labelpad=1.5, color='#222222')
ax.set_ylabel('PI3K−AKT_score', fontsize=4.2, labelpad=3, color='#222222')
ax.text(0.9, 4.92, 'R=0.97, p=0.00017', fontsize=2.9, style='italic', va='center', color='#222222')
ax.text(18, 4.92, 'HLCZ01-ETR2R', fontsize=3.9, va='center', color='#222222')
ax.text(1.8, 4.565, 'HLCZ01-ETR1R', fontsize=3.9, va='center', color='#222222')
ax.text(2.7, 3.99, 'HLCZ01', fontsize=3.9, va='center', color='#222222')
for s in ax.spines.values():
    s.set_color('#ABABAB')
    s.set_linewidth(0.8)

# ---- panels j, k : correlation heatmaps ----
corr_cmap = LinearSegmentedColormap.from_list('corr', corr_colors)


def corr_map(box, rows, genes, bar_box, label_size):
    n = len(genes)
    rows = [r.replace(' ', '') for r in rows]
    mat = np.array([[corr_levels[int(c)] for c in r[:n].ljust(n, '8')] for r in rows])
    ax = px_axes(*box)
    ax.pcolormesh(mat, cmap=corr_cmap, vmin=-0.45, vmax=1)
    cell_grid(ax, len(rows), n, '#8C8C8C', 0.28)
    ax.set_xlim(0, n)
    ax.set_ylim(len(rows), 0)
    ax.yaxis.tick_right()
    ax.set_yticks(np.arange(n) + 0.5)
    ax.set_yticklabels(genes, fontsize=label_size, color='#333333')
    ax.set_xticks(np.arange(n) + 0.5)
    ax.set_xticklabels(genes, fontsize=label_size, rotation=90, color='#333333')
    ax.tick_params(length=0, pad=0.8)
    for s in ax.spines.values():
        s.set_visible(False)
    gradient_bar(bar_box, corr_cmap, -0.45, 1, [-0.4, -0.2, 0, 0.2, 0.4, 0.6, 0.8, 1],
                 ['−0.4', '−0.2', '0', '0.2', '0.4', '0.6', '0.8', '1'], size=2.3)


corr_map((41, 516.7, 216, 634.7), j_rows, j_genes, (232.3, 516.7, 235.3, 559), 2.2)
corr_map((290.7, 516.7, 465.3, 634.3), k_rows, k_genes, (482, 516.7, 485, 559), 1.6)

# ---- overlay in picture pixels : venn, letters, titles, legends ----
ov = fig.add_axes([0, 0, 1, 1])
ov.set_xlim(0, W)
ov.set_ylim(H, 0)
ov.axis('off')


def venn(cx1, cx2, cy, r, counts, title, tx, num_x, num_y, lab_x):
    left = Circle((cx1, cy), r, fc='#FFB0B0', ec='none')
    right = Circle((cx2, cy), r, fc='#B0B0FF', ec='none')
    ov.add_patch(left)
    ov.add_patch(right)
    mid = Circle((cx1, cy), r, fc='#A86CBA', ec='none')
    ov.add_patch(mid)
    mid.set_clip_path(right)
    for c in (cx1, cx2):
        ov.add_patch(Circle((c, cy), r, fc='none', ec='#222222', lw=0.5))
    for x, v in zip(num_x, counts):
        ov.text(x, num_y, str(v), fontsize=4, ha='center', va='center', color='#222222')
    ov.text(tx, 10, title, fontsize=3.9, ha='center', va='center', color='#222222')
    ov.text(lab_x[0], 90, 'HLCZ01\nVS\nHLCZ01-ETR1R', fontsize=3.8, ha='center', va='center', linespacing=1.2,
            color='#222222')
    ov.text(lab_x[1], 90, 'HLCZ01\nVS\nHLCZ01-ETR2R', fontsize=3.8, ha='center', va='center', linespacing=1.2,
            color='#222222')


venn(42, 71, 46.7, 28.4, venn_up, 'Up-regulated gene', 62, (29, 57.7, 86.7), 47.3, (34, 79))
venn(145, 174, 46.7, 28.4, venn_down, 'Down-regulated gene', 165, (132.7, 162.3, 191), 46, (136, 181))

letters = ['a', 'b', 'c', 'd', 'e', 'f', 'g', 'h', 'i', 'j', 'k']
letter_x = [3, 219, 450, 3, 205, 416, 3, 217, 439, 3, 276]
letter_y = [5, 5, 5, 123, 160, 159, 335, 335, 334, 508, 508]
for t, x, y in zip(letters, letter_x, letter_y):
    ov.text(x, y, t, fontsize=6, ha='center', va='center', color='#222222')

sub_titles = ['HLCZ01 VS HLCZ01-ETR1R', 'HLCZ01 VS HLCZ01-ETR2R', 'HLCZ01-ETR1R VS HLCZ01', 'HLCZ01-ETR2R VS HLCZ01',
              'HLCZ01 VS HLCZ01-ETR1R', 'HLCZ01 VS HLCZ01-ETR2R', 'HLCZ01 VS HLCZ01-ETR1R', 'HLCZ01 VS HLCZ01-ETR2R']
title_x = [328, 568, 310.7, 529, 79, 297, 124, 378]
title_y = [140, 140, 297, 299, 491, 491, 654.5, 654.5]
for t, x, y in zip(sub_titles, title_x, title_y):
    ov.text(x, y, t, fontsize=3.9, ha='center', va='center', color='#222222')

# colourbar titles of b, c
ov.text(428, 61, 'pvalue', fontsize=2.3, va='center', color='#333333')
ov.text(670.7, 61, 'pvalue', fontsize=2.3, va='center', color='#333333')

# red arrows
arrow = [(-1, 1), (1, 0), (-1, -1), (-0.4, 0), (-1, 1)]
for x, y in ((237, 43), (479, 87)):
    ov.plot([x], [y], marker=arrow, ms=5.5, color='#FF0000', mew=0)

# group bars above d
group_names = ['HLCZ01', 'HLCZ01-ETR1R', 'HLCZ01-ETR2R']
group_x = [(43, 72), (80, 111), (117, 147)]
group_text_x = [54, 92, 130]
for name, (a, b), tx in zip(group_names, group_x, group_text_x):
    ov.plot([a, b], [151, 151], color='#555555', lw=0.8)
    ov.text(tx, 148.5, name, fontsize=3.9, rotation=45, ha='left', va='bottom', rotation_mode='anchor', color='#222222')

# GSEA tables
gsea_tables = [('0.0137', '0.4726'), ('0.0019', '0.077')]
table_x = [(359.3, 372.3, 374, 388.3), (564.3, 576.3, 578.7, 593)]
legend_x = [314.3, 519]
for vals, (a, b, c, d), lx in zip(gsea_tables, table_x, legend_x):
    for (x0, x1), head, v in zip(((a, b), (c, d)), ('pvalue', 'p.adjust'), vals):
        ov.add_patch(Rectangle((x0, 171), x1 - x0, 4.4, fc='#D9D9D9', ec='none'))
        ov.add_patch(Rectangle((x0, 176.5), x1 - x0, 4.6, fc='#F0F0F0', ec='none'))
        ov.text((x0 + x1) / 2, 173.2, head, fontsize=2.3, weight='bold', ha='center', va='center', color='#222222')
        ov.text((x0 + x1) / 2, 178.8, v, fontsize=2.3, ha='center', va='center', color='#222222')
    ov.text(lx, 179, 'PI3K−Akt signaling pathway', fontsize=2.6, ha='left', va='center', color='#33FF00')

# volcano legends
legend_names = ['Up', 'Down', 'Normal', 'CPA4']
legend_colors = ['#FF1414', '#2DB7AC', '#A9A9A9', '#9B30FF']
for x0, ys, head_y in ((122.7, (400.3, 406, 411.7, 417), 392.7), (347.3, (395, 401, 406.7, 412.3), 387.7)):
    ov.text(x0, head_y, 'Regulate', fontsize=3.5, va='center', color='#333333')
    ov.add_patch(Rectangle((x0, ys[0] - 2.8), 5.8, ys[3] - ys[0] + 5.6, fc='#F2F2F2', ec='none'))
    for name, c, y in zip(legend_names, legend_colors, ys):
        ov.scatter([x0 + 2.9], [y], s=1.2, color=c, linewidths=0)
        big = name == 'CPA4'
        ov.text(x0 + 8, y, name, fontsize=4.4 if big else 3, weight='bold' if big else 'normal', va='center',
                color='#222222')

# red box round CPA4 on j and k
ov.add_patch(Rectangle((40.7, 635.7), 5.3, 8.3, fc='none', ec='#F06060', lw=0.6))
ov.add_patch(Rectangle((290.7, 635.7), 4.7, 8.7, fc='none', ec='#F06060', lw=0.6))

fig.savefig('out.png', dpi=100)
